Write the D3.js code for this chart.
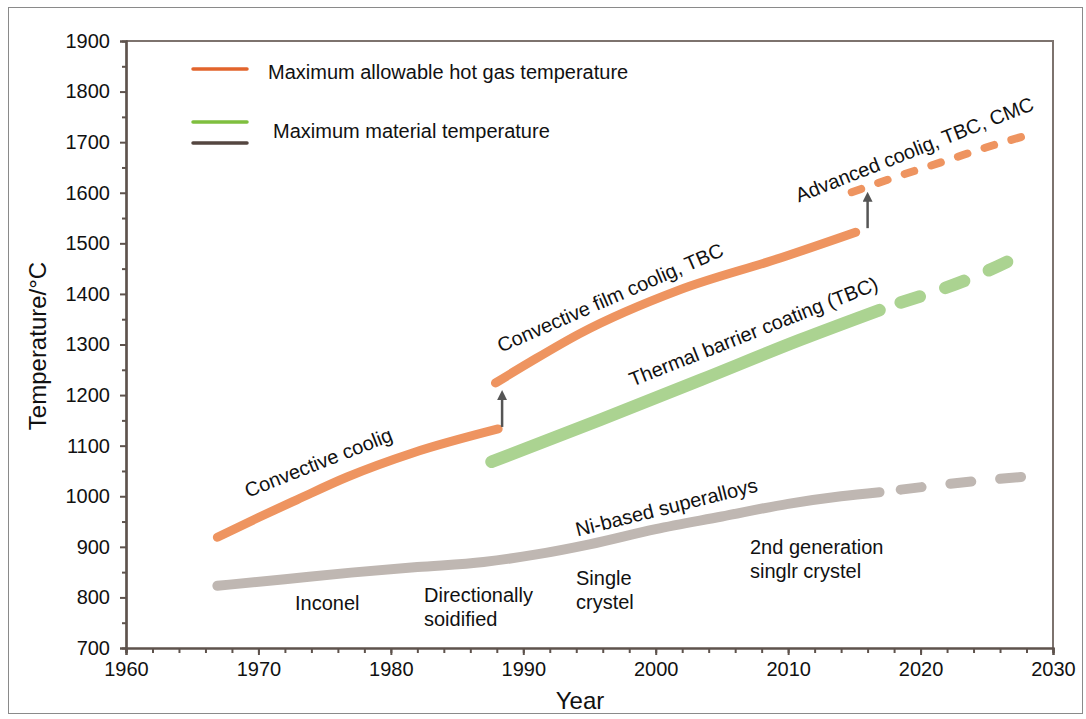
<!DOCTYPE html>
<html>
<head>
<meta charset="utf-8">
<script src="https://cdn.jsdelivr.net/npm/d3@7"></script>
<style>
  html, body { margin: 0; padding: 0; background: #fff; }
  svg { display: block; font-family: "Liberation Sans", Arial, Helvetica, sans-serif; }
</style>
</head>
<body>
<svg id="chart" width="1086" height="719"></svg>
<script>
// Year / temperature (°C) readings for each curve
const hotGasEarly = [[1966.9, 919], [1970, 958], [1972.9, 993], [1976.7, 1038], [1981.7, 1086], [1988.1, 1133]];
const hotGasFilm = [[1987.9, 1224], [1990.5, 1265], [1994.3, 1322], [2001.8, 1408], [2009.4, 1471], [2015.1, 1522]];
const hotGasFuture = [[2014.8, 1601], [2018, 1630], [2022, 1664], [2025, 1690], [2028.1, 1714]];
const tbcSolid = [[1987.6, 1068], [1995.8, 1151], [2003.4, 1230], [2010.9, 1309], [2016.9, 1368]];
const tbcFuture = [[2018.5, 1383], [2021, 1404], [2023.5, 1428], [2027.6, 1477]];
const alloySolid = [[1966.9, 823], [1972, 836], [1977, 849], [1982, 860], [1987, 870], [1991, 885], [1995, 905], [2000, 935], [2005, 960], [2010, 985], [2014, 1000], [2016.9, 1008]];
const alloyFuture = [[2018.5, 1013], [2022, 1024], [2025, 1032], [2028.4, 1040]];

// Step-change arrows between cooling technologies: [year, from, to]
const arrows = [[1988.4, 1137, 1200], [2016.0, 1530, 1592]];

// Axis ticks
const yearTicks = [1960, 1970, 1980, 1990, 2000, 2010, 2020, 2030];
const tempTicks = [700, 800, 900, 1000, 1100, 1200, 1300, 1400, 1500, 1600, 1700, 1800, 1900];

// Legend entries
const legendLabels = ["Maximum allowable hot gas temperature", "Maximum material temperature"];

const svg = d3.select("#chart");
const plotL = 126, plotR = 1053, plotT = 41, plotB = 648;
const fontSize = 20;

const x = d3.scaleLinear().domain([1960, 2030]).range([plotL, plotR]);
const y = d3.scaleLinear().domain([700, 1900]).range([plotB, plotT]);

const axisColor = "#5e534d";

// outer frame
svg.append("rect").attr("x", 8.5).attr("y", 7.5).attr("width", 1074).attr("height", 706)
  .attr("fill", "none").attr("stroke", "#8a8a8a").attr("stroke-width", 1);

// top and right border of plot box
svg.append("path")
  .attr("d", `M${plotL},${plotT}H${plotR}V${plotB}`)
  .attr("fill", "none").attr("stroke", "#7d736e").attr("stroke-width", 2);

// x axis
const xMinor = svg.append("g").attr("transform", `translate(0,${plotB})`)
  .call(d3.axisBottom(x).tickValues(d3.range(1960, 2031, 2)).tickSize(5).tickFormat(""));
xMinor.selectAll(".tick line").attr("stroke", axisColor).attr("stroke-width", 2);
const xMajor = svg.append("g").attr("transform", `translate(0,${plotB})`)
  .call(d3.axisBottom(x).tickValues(yearTicks).tickSize(7).tickPadding(7).tickFormat(d3.format("d")));
xMajor.selectAll(".tick line").attr("stroke", axisColor).attr("stroke-width", 2);
xMajor.selectAll(".tick text").attr("font-size", fontSize).attr("fill", "#111").attr("font-family", "Liberation Sans, Arial, sans-serif");
[xMinor, xMajor].forEach(g => g.select(".domain").attr("stroke", axisColor).attr("stroke-width", 2.2));

// y axis
const yMinor = svg.append("g").attr("transform", `translate(${plotL},0)`)
  .call(d3.axisLeft(y).tickValues(d3.range(750, 1900, 100)).tickSize(4).tickFormat(""));
yMinor.selectAll(".tick line").attr("stroke", axisColor).attr("stroke-width", 2);
const yMajor = svg.append("g").attr("transform", `translate(${plotL},0)`)
  .call(d3.axisLeft(y).tickValues(tempTicks).tickSize(6).tickPadding(10).tickFormat(d3.format("d")));
yMajor.selectAll(".tick line").attr("stroke", axisColor).attr("stroke-width", 2);
yMajor.selectAll(".tick text").attr("font-size", fontSize).attr("fill", "#111").attr("font-family", "Liberation Sans, Arial, sans-serif");
[yMinor, yMajor].forEach(g => g.select(".domain").attr("stroke", axisColor).attr("stroke-width", 2.2));

// axis titles
svg.append("text").attr("x", 580).attr("y", 709).attr("text-anchor", "middle")
  .attr("font-size", 24).attr("fill", "#111").text("Year");
svg.append("text").attr("transform", "translate(46,346) rotate(-90)").attr("text-anchor", "middle")
  .attr("font-size", 24).attr("fill", "#111").text("Temperature/°C");

const line = d3.line().x(d => x(d[0])).y(d => y(d[1])).curve(d3.curveMonotoneX);

const curves = svg.append("g").attr("fill", "none").attr("stroke-linecap", "round").attr("stroke-linejoin", "round");

function draw(data, color, width, dash) {
  const p = curves.append("path").attr("d", line(data))
    .attr("stroke", color).attr("stroke-width", width);
  if (dash) p.attr("stroke-dasharray", dash);
  return p;
}

const orange = "#ee9460", green = "#abd391", grey = "#bfb7b2";

draw(alloySolid, grey, 10);
draw(alloyFuture, grey, 10, "21,29");
draw(tbcSolid, green, 12.5);
draw(tbcFuture, green, 12.5, "20,27");
draw(hotGasEarly, orange, 9);
draw(hotGasFilm, orange, 9);
draw(hotGasFuture, orange, 8, "10,18");

// arrows
svg.append("defs").append("marker").attr("id", "head")
  .attr("viewBox", "0 0 10 10").attr("refX", 5).attr("refY", 5)
  .attr("markerWidth", 4).attr("markerHeight", 4).attr("orient", "auto")
  .append("path").attr("d", "M0,0L10,5L0,10Z").attr("fill", "#555");
svg.append("g").selectAll("line").data(arrows).join("line")
  .attr("x1", d => x(d[0])).attr("x2", d => x(d[0]))
  .attr("y1", d => y(d[1])).attr("y2", d => y(d[2]))
  .attr("stroke", "#555").attr("stroke-width", 2.5).attr("marker-end", "url(#head)");

// curve annotations
const notes = [
  { t: "Convective coolig", x: 321, y: 469, a: -21.5 },
  { t: "Convective film coolig, TBC", x: 613, y: 304, a: -23.5 },
  { t: "Thermal barrier coating (TBC)", x: 756, y: 338, a: -21.5 },
  { t: "Advanced coolig, TBC, CMC", x: 917, y: 156, a: -21.5 },
  { t: "Ni-based superalloys", x: 668, y: 514, a: -14 }
];
svg.append("g").selectAll("text").data(notes).join("text")
  .attr("transform", d => `translate(${d.x},${d.y}) rotate(${d.a})`)
  .attr("text-anchor", "middle").attr("font-size", fontSize).attr("fill", "#111")
  .text(d => d.t);

// alloy generation labels
const alloyNotes = [
  { lines: ["Inconel"], x: 295, y: 610 },
  { lines: ["Directionally", "soidified"], x: 424, y: 602 },
  { lines: ["Single", "crystel"], x: 576, y: 585 },
  { lines: ["2nd generation", "singlr crystel"], x: 750, y: 554 }
];
const an = svg.append("g").attr("font-size", fontSize).attr("fill", "#111");
alloyNotes.forEach(n => {
  const t = an.append("text").attr("x", n.x).attr("y", n.y);
  n.lines.forEach((s, i) => t.append("tspan").attr("x", n.x).attr("dy", i ? 24 : 0).text(s));
});

// legend
const lg = svg.append("g");
lg.append("line").attr("x1", 193).attr("x2", 247).attr("y1", 69).attr("y2", 69)
  .attr("stroke", "#e2642c").attr("stroke-width", 3.5).attr("stroke-linecap", "round");
lg.append("line").attr("x1", 193).attr("x2", 247).attr("y1", 122).attr("y2", 122)
  .attr("stroke", "#7fbf3f").attr("stroke-width", 3.5).attr("stroke-linecap", "round");
lg.append("line").attr("x1", 193).attr("x2", 247).attr("y1", 143).attr("y2", 143)
  .attr("stroke", "#544640").attr("stroke-width", 3.5).attr("stroke-linecap", "round");
lg.append("text").attr("x", 268).attr("y", 79).attr("font-size", fontSize).attr("fill", "#111").text(legendLabels[0]);
lg.append("text").attr("x", 273).attr("y", 138).attr("font-size", fontSize).attr("fill", "#111").text(legendLabels[1]);
</script>
</body>
</html>
